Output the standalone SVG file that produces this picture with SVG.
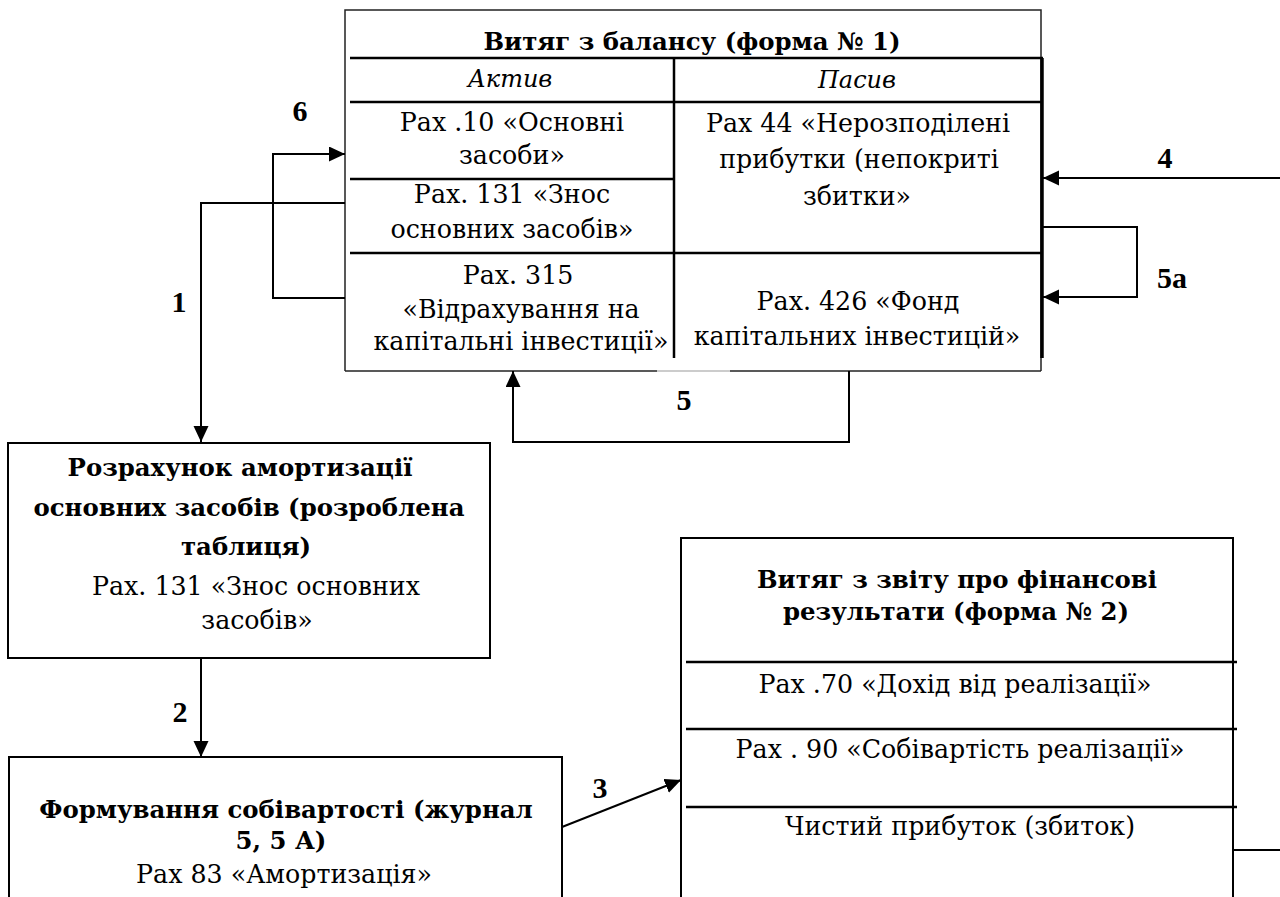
<svg xmlns="http://www.w3.org/2000/svg" width="1280" height="897" viewBox="0 0 1280 897">
<style>
.t{font-family:"DejaVu Serif","Liberation Serif",serif;font-size:25.3px;fill:#000;text-anchor:middle}
.b{font-weight:bold;font-size:24.4px}
.i{font-style:italic;font-size:24px}
.lbl{font-family:"Liberation Serif","DejaVu Serif",serif;font-weight:bold;font-size:30px;fill:#000;text-anchor:middle}
.bx{fill:#fff;stroke:#000;stroke-width:2}
.ln{stroke:#000;stroke-width:2.5;fill:none}
.thin{stroke:#222;stroke-width:1.5;fill:none}
.c{stroke:#000;stroke-width:2;fill:none}
</style>
<defs>
<marker id="ah" markerUnits="userSpaceOnUse" markerWidth="16" markerHeight="16" refX="16" refY="7.5" orient="auto">
<path d="M0,0 L16,7.5 L0,15 z" fill="#000"/>
</marker>
</defs>
<rect width="1280" height="897" fill="#fff"/>

<g id="balance">
<path class="thin" d="M345,371 V10 H1041 V371"/>
<line class="thin" x1="345" y1="371" x2="657" y2="371"/>
<line x1="657" y1="371" x2="730" y2="371" stroke="#bbb" stroke-width="1.5"/>
<line class="thin" x1="730" y1="371" x2="1041" y2="371"/>
<line class="ln" x1="350" y1="58" x2="1043" y2="58"/>
<line class="ln" x1="350" y1="102" x2="1043" y2="102"/>
<line class="ln" x1="350" y1="179" x2="674" y2="179"/>
<line class="ln" x1="350" y1="253" x2="1043" y2="253"/>
<line class="ln" x1="674" y1="58" x2="674" y2="358"/>
<line x1="1042" y1="58" x2="1042" y2="358" stroke="#000" stroke-width="3.5"/>
<text class="t b" x="692" y="50">Витяг з балансу (форма № 1)</text>
<text class="t i" x="510" y="87">Актив</text>
<text class="t i" x="857" y="88">Пасив</text>
<text class="t" x="512" y="131">Рах .10 «Основні</text>
<text class="t" x="512" y="164">засоби»</text>
<text class="t" x="512" y="203">Рах. 131 «Знос</text>
<text class="t" x="512" y="238">основних засобів»</text>
<text class="t" x="518" y="284">Рах. 315</text>
<text class="t" x="521" y="318">«Відрахування на</text>
<text class="t" x="521" y="350">капітальні інвестиції»</text>
<text class="t" x="858" y="132">Рах 44 «Нерозподілені</text>
<text class="t" x="859" y="168">прибутки (непокриті</text>
<text class="t" x="857" y="205">збитки»</text>
<text class="t" x="858" y="310">Рах. 426 «Фонд</text>
<text class="t" x="857" y="345">капітальних інвестицій»</text>
</g>

<g id="calc">
<rect class="bx" x="8" y="443" width="482" height="215"/>
<text class="t b" x="240" y="476">Розрахунок амортизації</text>
<text class="t b" x="249" y="516">основних засобів (розроблена</text>
<text class="t b" x="246" y="555">таблиця)</text>
<text class="t" x="256" y="595">Рах. 131 «Знос основних</text>
<text class="t" x="257" y="629">засобів»</text>
</g>

<g id="cost">
<rect class="bx" x="9" y="757" width="553" height="160"/>
<text class="t b" x="286" y="818">Формування собівартості (журнал</text>
<text class="t b" x="281" y="849">5, 5 А)</text>
<text class="t" x="284" y="883">Рах 83 «Амортизація»</text>
</g>

<g id="report">
<rect class="bx" x="681" y="538" width="552" height="380"/>
<line class="ln" x1="686" y1="662" x2="1237" y2="662"/>
<line class="ln" x1="686" y1="729" x2="1237" y2="729"/>
<line class="ln" x1="686" y1="807" x2="1237" y2="807"/>
<text class="t b" x="957" y="588">Витяг з звіту про фінансові</text>
<text class="t b" x="956" y="620">результати (форма № 2)</text>
<text class="t" x="955" y="693">Рах .70 «Дохід від реалізації»</text>
<text class="t" x="960" y="758">Рах . 90 «Собівартість реалізації»</text>
<text class="t" x="960" y="835">Чистий прибуток (збиток)</text>
</g>

<g id="connectors">
<path class="c" d="M345,203 H201 V442" marker-end="url(#ah)"/>
<path class="c" d="M345,298 H273 V154 H345" marker-end="url(#ah)"/>
<path class="c" d="M201,658 V757" marker-end="url(#ah)"/>
<path class="c" d="M562,827 L681,780" marker-end="url(#ah)"/>
<path class="c" d="M849,371 V442 H513 V371" marker-end="url(#ah)"/>
<path class="c" d="M1280,178 H1043" marker-end="url(#ah)"/>
<path class="c" d="M1043,227 H1137 V297 H1043" marker-end="url(#ah)"/>
<line class="c" x1="1233" y1="850" x2="1280" y2="850"/>
<text class="lbl" x="300" y="121">6</text>
<text class="lbl" x="179" y="312">1</text>
<text class="lbl" x="180" y="722">2</text>
<text class="lbl" x="600" y="798">3</text>
<text class="lbl" x="1165" y="168">4</text>
<text class="lbl" x="684" y="410">5</text>
<text class="lbl" x="1172" y="288">5a</text>
</g>
</svg>
